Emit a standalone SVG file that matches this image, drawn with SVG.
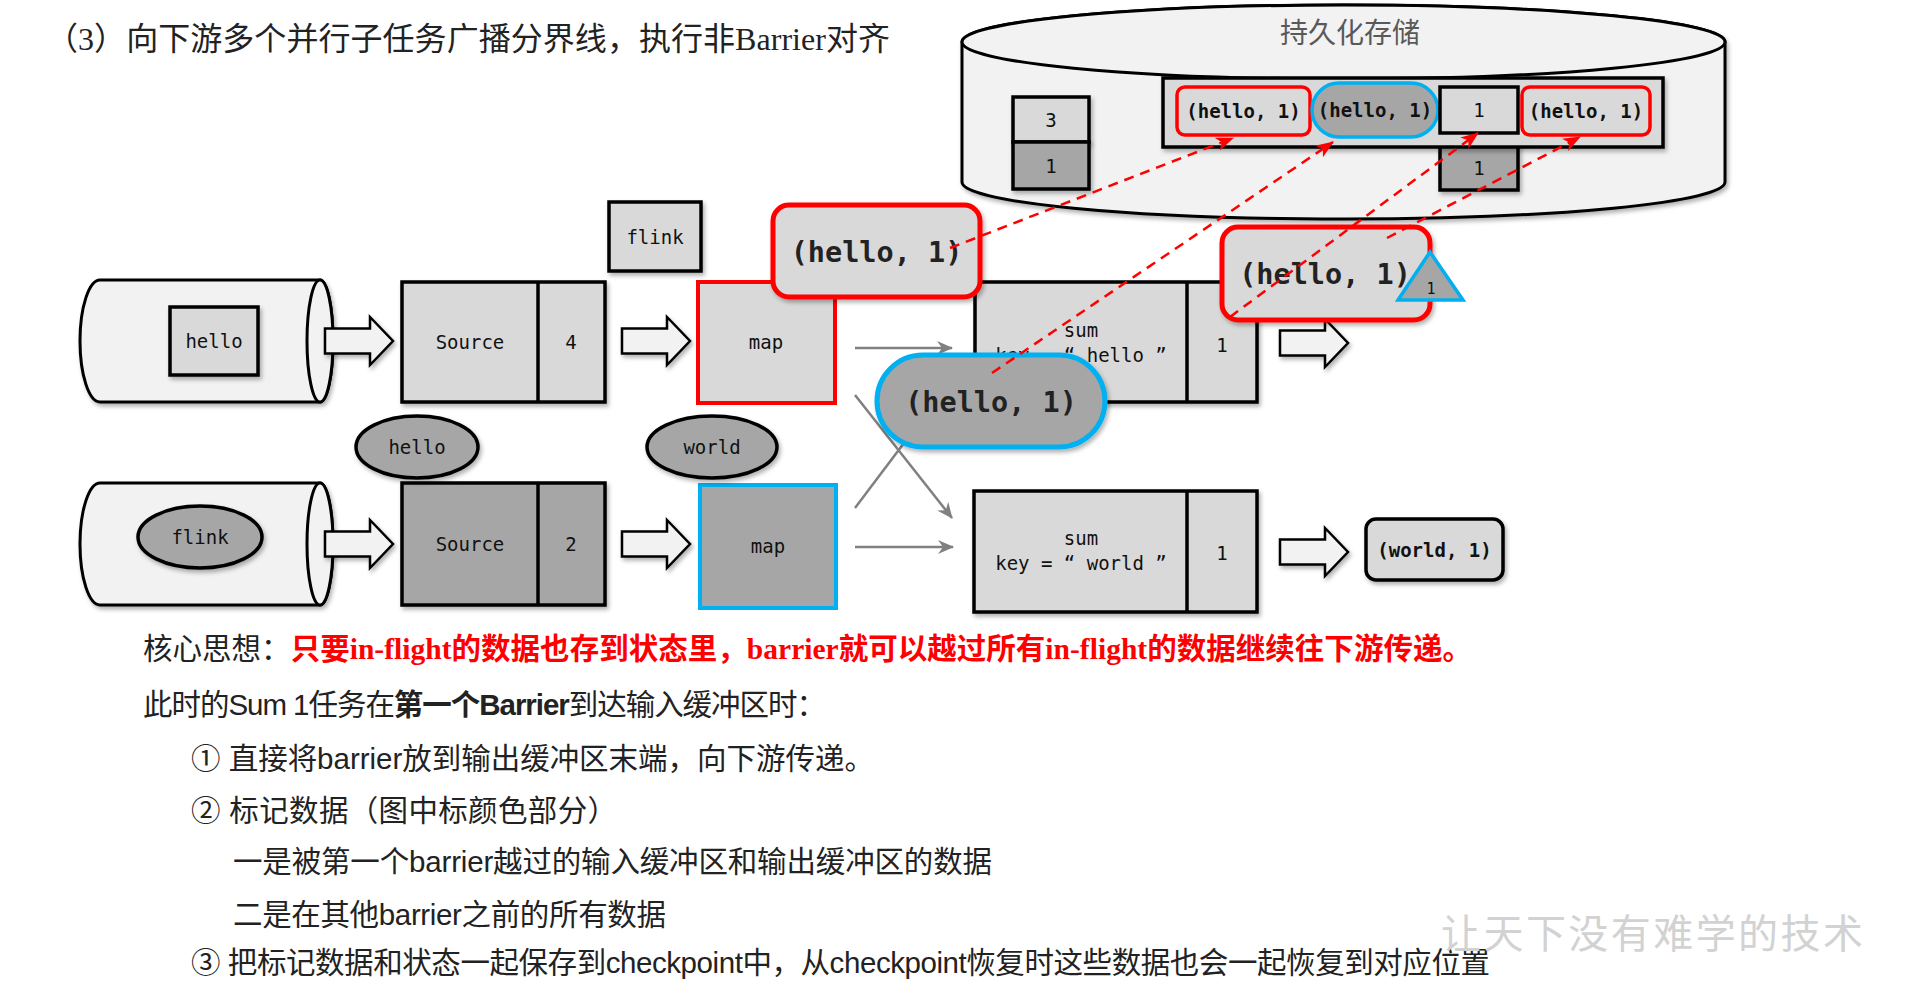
<svg xmlns="http://www.w3.org/2000/svg" width="1913" height="985" viewBox="0 0 1913 985">
<defs>
<style>
.bg{fill:#ffffff}
.box{fill:#d9d9d9;stroke:#000;stroke-width:3.5}
.dark{fill:#a6a6a6;stroke:#000;stroke-width:3.5}
.cyl{fill:#f2f2f2;stroke:#000;stroke-width:3}
.div{stroke:#000;stroke-width:3.5}
.redb{fill:#d9d9d9;stroke:#ff0000;stroke-width:5}
.reds{fill:#d9d9d9;stroke:#ff0000;stroke-width:3.5}
.blueb{fill:#a6a6a6;stroke:#00b0f0;stroke-width:5}
.blues{fill:#a6a6a6;stroke:#00b0f0;stroke-width:3.5}
.harrow{fill:#f2f2f2;stroke:#000;stroke-width:2.5}
.gline{stroke:#808080;stroke-width:2.5;fill:none}
.rdash{stroke:#ff0000;stroke-width:2.5;stroke-dasharray:10 7;fill:none}
.lbl{font-family:"DejaVu Sans Mono","Liberation Mono",monospace;font-size:19px;fill:#111;text-anchor:middle;dominant-baseline:central}
.big{font-family:"DejaVu Sans Mono","Liberation Mono",monospace;font-size:28.5px;font-weight:bold;fill:#222;text-anchor:middle;dominant-baseline:central}
.sb{font-family:"DejaVu Sans Mono","Liberation Mono",monospace;font-size:19px;font-weight:bold;fill:#111;text-anchor:middle;dominant-baseline:central}
.title{font-family:"Liberation Serif","Noto Sans CJK SC",serif;font-size:32px;fill:#222}
.body{font-family:"Liberation Sans","Noto Sans CJK SC",sans-serif;font-size:29.5px;fill:#222}
.red{font-family:"Liberation Serif","Noto Sans CJK SC",serif;font-weight:bold;fill:#ff0000}
.bold{font-weight:bold}
.store{font-family:"Noto Sans CJK SC",sans-serif;font-size:28px;fill:#595959;text-anchor:middle}
.wm{font-family:"Noto Sans CJK SC",sans-serif;font-size:40px;fill:#d2d2d2}
</style>
<filter id="sh" x="-10%" y="-10%" width="130%" height="140%">
<feDropShadow dx="2" dy="3" stdDeviation="2" flood-color="#000" flood-opacity="0.3"/>
</filter>
<marker id="gh" viewBox="0 0 16 14" refX="15" refY="7" markerWidth="16" markerHeight="14" markerUnits="userSpaceOnUse" orient="auto">
<path d="M0,0 L16,7 L0,14 L5,7 Z" fill="#808080"/>
</marker>
<marker id="rh" viewBox="0 0 18 14" refX="17" refY="7" markerWidth="18" markerHeight="14" markerUnits="userSpaceOnUse" orient="auto">
<path d="M0,0 L18,7 L0,14 L5,7 Z" fill="#ff0000"/>
</marker>
<path id="ha" d="M0,-12.5 H45 V-24 L68,0 L45,24 V12.5 H0 Z"/>
</defs>
<rect class="bg" x="0" y="0" width="1913" height="985"/>

<text class="title" x="46" y="50" textLength="844">（3）向下游多个并行子任务广播分界线，执行非Barrier对齐</text>

<g id="storage">
<path class="cyl" d="M962,42 A381.5,37 0 0 1 1725,42 L1725,182 A381.5,37 0 0 1 962,182 Z" filter="url(#sh)"/>
<ellipse class="cyl" cx="1343.5" cy="42" rx="381.5" ry="37"/>
<text class="store" x="1350" y="43">持久化存储</text>
</g>
<g id="state-3">
<rect class="box" x="1013" y="97" width="76" height="45" filter="url(#sh)"/>
<text class="lbl" x="1051" y="120">3</text>
</g>
<g id="state-1">
<rect class="dark" x="1013" y="142" width="76" height="47" filter="url(#sh)"/>
<text class="lbl" x="1051" y="166">1</text>
</g>
<g id="state-e">
<rect class="dark" x="1440" y="145" width="78" height="45" filter="url(#sh)"/>
<text class="lbl" x="1479" y="168">1</text>
</g>
<g id="buffer">
<rect class="box" x="1163" y="78" width="500" height="69" filter="url(#sh)"/>
</g>
<g id="buf-a">
<rect class="reds" x="1177" y="87" width="133" height="48" rx="8"/>
<text class="sb" x="1243.5" y="111">(hello, 1)</text>
</g>
<g id="buf-b">
<rect class="blues" x="1312" y="83" width="126" height="54" rx="27"/>
<text class="sb" x="1375" y="110">(hello, 1)</text>
</g>
<g id="buf-c">
<rect class="box" x="1440" y="87" width="78" height="46"/>
<text class="lbl" x="1479" y="110">1</text>
</g>
<g id="buf-d">
<rect class="reds" x="1522" y="87" width="128" height="48" rx="8"/>
<text class="sb" x="1586" y="111">(hello, 1)</text>
</g>

<g id="kafka-1">
<path class="cyl" d="M100,280 L320,280 A13,61 0 0 1 320,402 L100,402 A20,61 0 0 1 100,280 Z" filter="url(#sh)"/>
<ellipse class="cyl" cx="320" cy="341" rx="13" ry="61"/>
<rect class="box" x="170" y="307" width="88" height="68" filter="url(#sh)"/>
<text class="lbl" x="214" y="341">hello</text>
</g>
<g id="kafka-2">
<path class="cyl" d="M100,483 L320,483 A13,61 0 0 1 320,605 L100,605 A20,61 0 0 1 100,483 Z" filter="url(#sh)"/>
<ellipse class="cyl" cx="320" cy="544" rx="13" ry="61"/>
<ellipse class="dark" cx="200" cy="537" rx="62" ry="31" filter="url(#sh)"/>
<text class="lbl" x="200" y="537">flink</text>
</g>

<g id="block-arrows">
<use href="#ha" class="harrow" x="325" y="341" filter="url(#sh)"/>
<use href="#ha" class="harrow" x="622" y="341" filter="url(#sh)"/>
<use href="#ha" class="harrow" x="1280" y="343" filter="url(#sh)"/>
<use href="#ha" class="harrow" x="325" y="544" filter="url(#sh)"/>
<use href="#ha" class="harrow" x="622" y="544" filter="url(#sh)"/>
<use href="#ha" class="harrow" x="1280" y="552" filter="url(#sh)"/>
</g>

<g id="source-1">
<rect class="box" x="402" y="282" width="203" height="120" filter="url(#sh)"/>
<line class="div" x1="538" y1="282" x2="538" y2="402"/>
<text class="lbl" x="470" y="342">Source</text>
<text class="lbl" x="571" y="342">4</text>
</g>
<g id="source-2">
<rect class="dark" x="402" y="483" width="203" height="122" filter="url(#sh)"/>
<line class="div" x1="538" y1="483" x2="538" y2="605"/>
<text class="lbl" x="470" y="544">Source</text>
<text class="lbl" x="571" y="544">2</text>
</g>
<g id="flink-rec">
<rect class="box" x="609" y="202" width="92" height="69" filter="url(#sh)"/>
<text class="lbl" x="655" y="237">flink</text>
</g>
<g id="map-1">
<rect x="698" y="282" width="137" height="121" fill="#d9d9d9" stroke="#ff0000" stroke-width="4"/>
<text class="lbl" x="766" y="342">map</text>
</g>
<g id="map-2">
<rect x="700" y="485" width="136" height="123" fill="#a6a6a6" stroke="#00b0f0" stroke-width="4"/>
<text class="lbl" x="768" y="546">map</text>
</g>
<g id="hello-rec">
<ellipse class="dark" cx="417" cy="447" rx="61" ry="31" filter="url(#sh)"/>
<text class="lbl" x="417" y="447">hello</text>
</g>
<g id="world-rec">
<ellipse class="dark" cx="712" cy="447" rx="65" ry="31" filter="url(#sh)"/>
<text class="lbl" x="712" y="447">world</text>
</g>
<g id="sum-1">
<rect class="box" x="975" y="282" width="282" height="120" filter="url(#sh)"/>
<line class="div" x1="1187" y1="282" x2="1187" y2="402"/>
<text class="lbl" x="1081" y="330">sum</text>
<text class="lbl" x="1081" y="355">key = “ hello ”</text>
<text class="lbl" x="1222" y="345">1</text>
</g>
<g id="sum-2">
<rect class="box" x="974" y="491" width="283" height="121" filter="url(#sh)"/>
<line class="div" x1="1187" y1="491" x2="1187" y2="612"/>
<text class="lbl" x="1081" y="538">sum</text>
<text class="lbl" x="1081" y="563">key = “ world ”</text>
<text class="lbl" x="1222" y="553">1</text>
</g>
<g id="world-out">
<rect class="box" x="1366" y="519" width="137" height="61" rx="10" filter="url(#sh)"/>
<text class="sb" x="1434.5" y="550">(world, 1)</text>
</g>

<g id="connectors">
<line class="gline" x1="855" y1="348" x2="952" y2="348" marker-end="url(#gh)"/>
<line class="gline" x1="855" y1="395" x2="952" y2="518" marker-end="url(#gh)"/>
<line class="gline" x1="855" y1="508" x2="950" y2="382" marker-end="url(#gh)"/>
<line class="gline" x1="855" y1="547" x2="953" y2="547" marker-end="url(#gh)"/>
</g>

<g id="pill-hello">
<rect class="blueb" x="877" y="355" width="228" height="92" rx="46" filter="url(#sh)"/>
<text class="big" x="991" y="402">(hello, 1)</text>
</g>
<g id="bubble-1">
<rect class="redb" x="773" y="205" width="207" height="92" rx="16" filter="url(#sh)"/>
<text class="big" x="876.5" y="252">(hello, 1)</text>
</g>
<g id="bubble-2">
<rect class="redb" x="1222" y="227" width="208" height="93" rx="16" filter="url(#sh)"/>
<text class="big" x="1325" y="274">(hello, 1)</text>
<polygon points="1430,252 1398,300 1463,300" fill="#a6a6a6" stroke="#00b0f0" stroke-width="3.5"/>
<text x="1431" y="289" font-family="DejaVu Sans Mono, monospace" font-size="15" fill="#111" text-anchor="middle" dominant-baseline="central">1</text>
</g>

<g id="snapshot-arrows">
<line class="rdash" x1="950" y1="248" x2="1233" y2="138" marker-end="url(#rh)"/>
<line class="rdash" x1="992" y1="373" x2="1333" y2="142" marker-end="url(#rh)"/>
<line class="rdash" x1="1230" y1="317" x2="1478" y2="133" marker-end="url(#rh)"/>
<line class="rdash" x1="1387" y1="238" x2="1580" y2="137" marker-end="url(#rh)"/>
</g>

<g id="notes">
<text class="body" x="143" y="659" textLength="1329">核心思想：<tspan class="red">只要in-flight的数据也存到状态里，barrier就可以越过所有in-flight的数据继续往下游传递。</tspan></text>
<text class="body" x="143" y="715" textLength="683">此时的Sum 1任务在<tspan class="bold">第一个Barrier</tspan>到达输入缓冲区时：</text>
<text class="body" x="191" y="769" textLength="683">① 直接将barrier放到输出缓冲区末端，向下游传递。</text>
<text class="body" x="191" y="821" textLength="426">② 标记数据（图中标颜色部分）</text>
<text class="body" x="233" y="872" textLength="759">一是被第一个barrier越过的输入缓冲区和输出缓冲区的数据</text>
<text class="body" x="233" y="925" textLength="433">二是在其他barrier之前的所有数据</text>
<text class="body" x="191" y="973" textLength="1299">③ 把标记数据和状态一起保存到checkpoint中，从checkpoint恢复时这些数据也会一起恢复到对应位置</text>
<text class="wm" x="1441" y="948" textLength="422">让天下没有难学的技术</text>
</g>
</svg>
